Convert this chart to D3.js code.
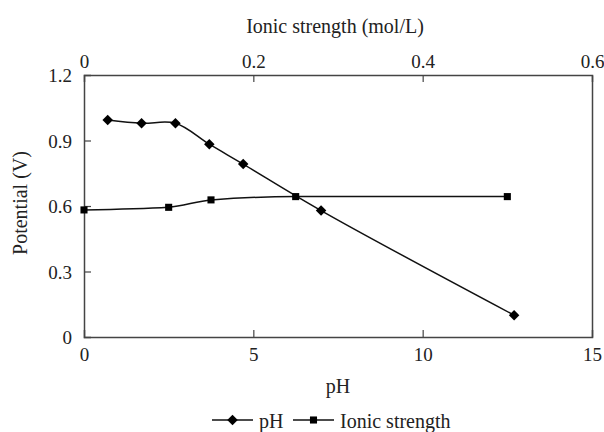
<!DOCTYPE html>
<html>
<head>
<meta charset="utf-8">
<script src="https://cdn.jsdelivr.net/npm/d3@7"></script>
<style>
  body { margin: 0; background: #fff; }
</style>
</head>
<body>
<div class="graph"></div>
<script>
/*---------- DATA ----------*/

// potential vs pH (bottom axis)
const phX = [0.7, 1.7, 2.7, 3.7, 4.7, 7.0, 12.7];
const phY = [0.994, 0.979, 0.979, 0.883, 0.792, 0.579, 0.100];

// potential vs ionic strength (top axis)
const ionX = [0, 0.1, 0.15, 0.25, 0.5];
const ionY = [0.582, 0.594, 0.628, 0.643, 0.643];

const phTicks = [0, 5, 10, 15];
const ionTicks = [0, 0.2, 0.4, 0.6];
const yTicks = [0, 0.3, 0.6, 0.9, 1.2];

const legendLabels = ["pH", "Ionic strength"];

/*---------- D3 STUFF ----------*/

//define dimensions
const SIZE = {X: 604, Y: 432};
const MARGIN = {TOP: 75, BOTTOM: 95, LEFT: 84, RIGHT: 12};
const DIM = {WIDTH: SIZE.X - MARGIN.LEFT - MARGIN.RIGHT,
             HEIGHT: SIZE.Y - MARGIN.TOP - MARGIN.BOTTOM};
const AXIS_COLOR = "#444";
const FONT = '"Liberation Serif", "Times New Roman", serif';

const svg = d3.select(".graph").append("svg")
    .attr("width", SIZE.X)
    .attr("height", SIZE.Y);

const graph = svg.append("g")
    .attr("transform", `translate(${MARGIN.LEFT}, ${MARGIN.TOP})`);

//scales
const x = d3.scaleLinear().domain([0, 15]).range([0, DIM.WIDTH]);
const x2 = d3.scaleLinear().domain([0, 0.6]).range([0, DIM.WIDTH]);
const y = d3.scaleLinear().domain([0, 1.2]).range([DIM.HEIGHT, 0]);

const fmt = d => d === 0 ? "0" : d3.format(".1f")(d);

//axes, ticks pointing inward
const xAxis = graph.append("g")
    .attr("transform", `translate(0, ${DIM.HEIGHT})`)
    .call(d3.axisTop(x).tickValues(phTicks).tickSize(7).tickFormat(d3.format("d")));
xAxis.selectAll("text").attr("dy", null).attr("y", 24);

const xAxis2 = graph.append("g")
    .call(d3.axisBottom(x2).tickValues(ionTicks).tickSize(7).tickFormat(fmt));
xAxis2.selectAll("text").attr("dy", null).attr("y", -7);

const yAxis = graph.append("g")
    .call(d3.axisRight(y).tickValues(yTicks).tickSize(7).tickFormat(fmt));
yAxis.selectAll("text").attr("x", -12).attr("dy", "0.35em").attr("text-anchor", "end");

const yAxis2 = graph.append("g")
    .attr("transform", `translate(${DIM.WIDTH}, 0)`)
    .call(d3.axisLeft(y).tickValues([]).tickSize(0));

[xAxis, xAxis2, yAxis, yAxis2].forEach(a => {
    a.attr("font-family", null).attr("font-size", null);
    a.select(".domain").attr("stroke", AXIS_COLOR).attr("stroke-width", 1.5);
    a.selectAll(".tick line").attr("stroke", AXIS_COLOR).attr("stroke-width", 1.2);
    a.selectAll(".tick text").attr("class", "lbl tick-lbl").attr("fill", "#222");
});
// drop the outer end-ticks so the frame stays clean
[xAxis, xAxis2].forEach(a => a.selectAll(".tick line").filter(d => d === 0 || d === 15 || d === 0.6).remove());
yAxis.selectAll(".tick line").filter(d => d === 0 || d === 1.2).remove();

//axis titles
svg.append("text")
    .attr("class", "lbl title")
    .attr("x", 335).attr("y", 33)
    .attr("text-anchor", "middle")
    .text("Ionic strength (mol/L)");

svg.append("text")
    .attr("class", "lbl title")
    .attr("x", 338).attr("y", 393)
    .attr("text-anchor", "middle")
    .text("pH");

svg.append("text")
    .attr("class", "lbl title")
    .attr("transform", "translate(27, 203) rotate(-90)")
    .attr("text-anchor", "middle")
    .text("Potential (V)");

//lines
const phData = phX.map((v, i) => ({x: v, y: phY[i]}));
const ionData = ionX.map((v, i) => ({x: v, y: ionY[i]}));

const phLine = d3.line().x(d => x(d.x)).y(d => y(d.y)).curve(d3.curveCatmullRom.alpha(0.5));
const ionLine = d3.line().x(d => x2(d.x)).y(d => y(d.y)).curve(d3.curveMonotoneX);

graph.append("path").datum(phData)
    .attr("d", phLine).attr("fill", "none").attr("stroke", "#111").attr("stroke-width", 1.5);
graph.append("path").datum(ionData)
    .attr("d", ionLine).attr("fill", "none").attr("stroke", "#111").attr("stroke-width", 1.5);

const diamond = d3.symbol().type(d3.symbolDiamond2).size(70);
const square = d3.symbol().type(d3.symbolSquare2).size(64);

graph.selectAll(".ion-pt").data(ionData).enter()
    .append("path").attr("class", "ion-pt")
    .attr("d", square)
    .attr("transform", d => `translate(${x2(d.x)}, ${y(d.y)})`)
    .attr("fill", "#000");

graph.selectAll(".ph-pt").data(phData).enter()
    .append("path").attr("class", "ph-pt")
    .attr("d", diamond)
    .attr("transform", d => `translate(${x(d.x)}, ${y(d.y)})`)
    .attr("fill", "#000");

//legend
const legend = svg.append("g").attr("transform", "translate(212, 420)");
const legendItems = [{x: 0, sym: diamond, label: legendLabels[0]},
                     {x: 81, sym: square, label: legendLabels[1]}];
legendItems.forEach(it => {
    const g = legend.append("g").attr("transform", `translate(${it.x}, 0)`);
    g.append("line").attr("x1", 0).attr("x2", 41).attr("y1", 0).attr("y2", 0)
        .attr("stroke", "#111").attr("stroke-width", 1.5);
    g.append("path").attr("d", it.sym).attr("transform", "translate(20.5, 0)").attr("fill", "#000");
    g.append("text").attr("class", "lbl title").attr("x", 47).attr("y", 8).text(it.label);
});

//font on every text node directly
svg.selectAll("text.lbl")
    .style("font-family", FONT)
    .style("fill", "#222");
svg.selectAll("text.tick-lbl").style("font-size", "19px");
svg.selectAll("text.title").style("font-size", "20px");
</script>
</body>
</html>
